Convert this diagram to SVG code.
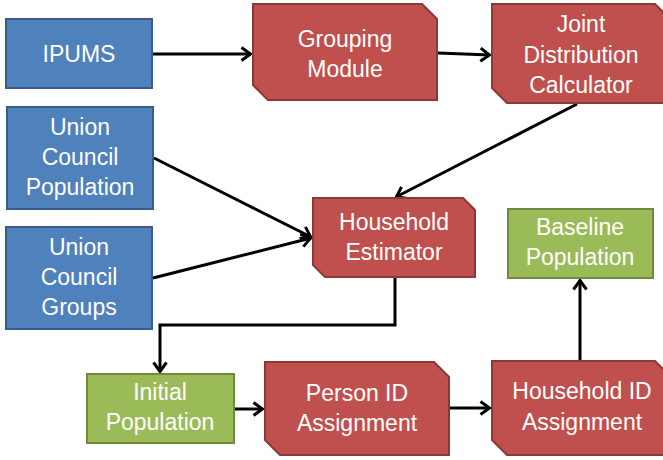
<svg xmlns="http://www.w3.org/2000/svg" width="663" height="460" viewBox="0 0 663 460">
<style>
.blue{fill:#4F81BD;stroke:#385D8A;stroke-width:2}
.red{fill:#C0504D;stroke:#8C3836;stroke-width:2}
.green{fill:#9BBB59;stroke:#71893F;stroke-width:2}
text{font-family:"Liberation Sans",Arial,sans-serif;font-size:23px;fill:#FFFFFF;text-anchor:middle}
.conn{fill:none;stroke:#000;stroke-width:3;marker-end:url(#arr)}
</style>
<defs>
<marker id="arr" viewBox="0 0 12 16" refX="11" refY="8" markerWidth="12" markerHeight="16" markerUnits="userSpaceOnUse" orient="auto">
<path d="M1.5,1.5 L10.5,8 L1.5,14.5" fill="none" stroke="#000" stroke-width="3"/>
</marker>
</defs>
<rect width="663" height="460" fill="#FFFFFF"/>
<g id="connectors">
<line class="conn" x1="153" y1="54" x2="251" y2="54"/>
<line class="conn" x1="438" y1="53" x2="490" y2="55"/>
<line class="conn" x1="577" y1="104" x2="396" y2="197"/>
<line class="conn" x1="154" y1="158" x2="311" y2="237"/>
<line class="conn" x1="153" y1="278" x2="311" y2="238"/>
<polyline class="conn" points="395,278 395,325 160,325 160,372"/>
<line class="conn" x1="235" y1="409" x2="263" y2="409"/>
<line class="conn" x1="450" y1="408" x2="490" y2="408"/>
<line class="conn" x1="580" y1="360" x2="580" y2="280"/>
</g>
<g id="ipums">
<rect class="blue" x="6" y="19" width="146" height="69"/>
<text x="79" y="62">IPUMS</text>
</g>
<g id="grouping">
<path class="red" d="M253,4 L422,4 L437,19 L437,100 L268,100 L253,85 Z"/>
<text x="345" y="47">Grouping</text>
<text x="345" y="77">Module</text>
</g>
<g id="joint">
<path class="red" d="M492,4 L655,4 L670,19 L670,103 L507,103 L492,88 Z"/>
<text x="581" y="32">Joint</text>
<text x="581" y="63">Distribution</text>
<text x="581" y="93">Calculator</text>
</g>
<g id="uc-population">
<rect class="blue" x="7" y="107" width="146" height="102"/>
<text x="80" y="135">Union</text>
<text x="80" y="165">Council</text>
<text x="80" y="195">Population</text>
</g>
<g id="uc-groups">
<rect class="blue" x="6" y="227" width="146" height="102"/>
<text x="79" y="255">Union</text>
<text x="79" y="285">Council</text>
<text x="79" y="315">Groups</text>
</g>
<g id="household-estimator">
<path class="red" d="M313,198 L463,198 L475,210 L475,277 L325,277 L313,265 Z"/>
<text x="394" y="230">Household</text>
<text x="394" y="260">Estimator</text>
</g>
<g id="baseline-population">
<rect class="green" x="508" y="209" width="145" height="69"/>
<text x="580" y="235">Baseline</text>
<text x="580" y="265">Population</text>
</g>
<g id="initial-population">
<rect class="green" x="87" y="374" width="147" height="69"/>
<text x="160" y="400">Initial</text>
<text x="160" y="430">Population</text>
</g>
<g id="person-id">
<path class="red" d="M265,362 L434,362 L449,377 L449,455 L280,455 L265,440 Z"/>
<text x="357" y="401">Person ID</text>
<text x="357" y="431">Assignment</text>
</g>
<g id="household-id">
<path class="red" d="M492,361 L655,361 L670,376 L670,455 L507,455 L492,440 Z"/>
<text x="582" y="399">Household ID</text>
<text x="582" y="430">Assignment</text>
</g>
</svg>
